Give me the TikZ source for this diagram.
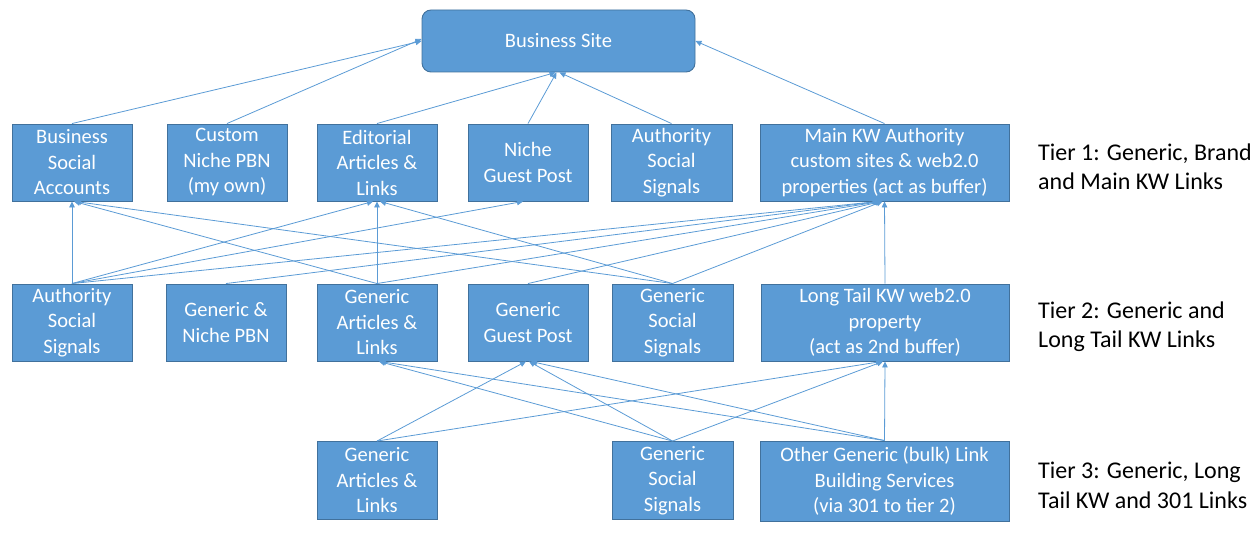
\documentclass[tikz,border=0pt]{standalone}
\usepackage{fontspec}
\setmainfont{Carlito}
\usetikzlibrary{arrows.meta}
\definecolor{boxfill}{HTML}{5B9BD5}
\definecolor{boxline}{HTML}{41719C}
\definecolor{linkline}{HTML}{5B9BD5}
\tikzset{
  box/.style={draw=boxline, line width=0.9pt, fill=boxfill, text=white, align=center,
    inner sep=0pt, font=\fontsize{20.5}{25.5}\selectfont},
  tierlabel/.style={anchor=west, align=left, inner sep=0pt, text=black,
    font=\fontsize{24}{29.5}\selectfont},
  link/.style={draw=linkline, line width=0.8pt, -{Triangle[length=6pt,width=5.5pt]}}
}
\begin{document}
\begin{tikzpicture}[x=1pt,y=-1pt]
\useasboundingbox (0,0) rectangle (1260,537);
% top
\node[box, rounded corners=9pt, minimum width=273pt, minimum height=62pt] (bs) at (558.5,41) {Business Site};
% tier 1
\node[box, minimum width=120pt, minimum height=77pt] (bsa) at (72,162.5) {Business\\Social\\Accounts};
\node[box, minimum width=120pt, minimum height=77pt] (cpbn) at (227,162.5) {Custom\\Niche PBN\\(my own)};
\node[box, minimum width=120pt, minimum height=77pt] (edit) at (377,162.5) {Editorial\\Articles \&\\Links};
\node[box, minimum width=120pt, minimum height=77pt] (ngp) at (528,162.5) {Niche\\Guest Post};
\node[box, minimum width=121pt, minimum height=77pt] (ass1) at (671.5,162.5) {Authority\\Social\\Signals};
\node[box, minimum width=249pt, minimum height=77pt] (mkw) at (884.5,162.5) {Main KW Authority\\custom sites \& web2.0\\properties (act as buffer)};
% tier 2
\node[box, minimum width=120pt, minimum height=77pt] (ass2) at (72,322.5) {Authority\\Social\\Signals};
\node[box, minimum width=120pt, minimum height=77pt] (gnp) at (226,322.5) {Generic \&\\Niche PBN};
\node[box, minimum width=120pt, minimum height=77pt] (ga2) at (377,322.5) {Generic\\Articles \&\\Links};
\node[box, minimum width=120pt, minimum height=77pt] (ggp) at (528,322.5) {Generic\\Guest Post};
\node[box, minimum width=121pt, minimum height=77pt] (gss2) at (672.5,322.5) {Generic\\Social\\Signals};
\node[box, minimum width=248pt, minimum height=77pt] (lt) at (885,322.5) {Long Tail KW web2.0\\property\\(act as 2nd buffer)};
% tier 3
\node[box, minimum width=120pt, minimum height=78pt] (ga3) at (377,480.5) {Generic\\Articles \&\\Links};
\node[box, minimum width=121pt, minimum height=78pt] (gss3) at (672.5,480.5) {Generic\\Social\\Signals};
\node[box, minimum width=249pt, minimum height=80pt] (og) at (884.5,481) {Other Generic (bulk) Link\\Building Services\\(via 301 to tier 2)};
% tier labels
\node[tierlabel] (t1) at (1038,167) {Tier 1: Generic, Brand\\and Main KW Links};
\node[tierlabel] (t2) at (1038,326.5) {Tier 2: Generic and\\Long Tail KW Links};
\node[tierlabel] (t3) at (1038,485.5) {Tier 3: Generic, Long\\Tail KW and 301 Links};
% tier 1 -> business site
\draw[link] (bsa.north) -- (bs.west);
\draw[link] (cpbn.north) -- ([yshift=2pt]bs.west);
\draw[link] (edit.north) -- ([xshift=-3pt]bs.south);
\draw[link] (ngp.north) -- ([xshift=-2pt]bs.south);
\draw[link] (ass1.north) -- ([xshift=1pt]bs.south);
\draw[link] (mkw.north) -- (bs.east);
% tier 2 -> tier 1
\draw[link] (ass2.north) -- (bsa.south);
\draw[link] (ass2.north) -- ([xshift=-4pt]edit.south);
\draw[link] (ass2.north) -- ([xshift=-5pt]ngp.south);
\draw[link] (ass2.north) -- ([xshift=-6pt]mkw.south);
\draw[link] (gnp.north) -- ([xshift=-5pt]mkw.south);
\draw[link] (ga2.north) -- (edit.south);
\draw[link] (ga2.north) -- ([xshift=2pt]bsa.south);
\draw[link] (ga2.north) -- ([xshift=-4pt]mkw.south);
\draw[link] (ggp.north) -- ([xshift=-3pt]mkw.south);
\draw[link] (gss2.north) -- ([xshift=3pt]bsa.south);
\draw[link] (gss2.north) -- ([xshift=3pt]edit.south);
\draw[link] (gss2.north) -- ([xshift=-2pt]mkw.south);
\draw[link] (lt.north) -- (mkw.south);
% tier 3 -> tier 2
\draw[link] (ga3.north) -- ([xshift=-2pt]ggp.south);
\draw[link] (ga3.north) -- ([xshift=-3pt]lt.south);
\draw[link] (gss3.north) -- ([xshift=2pt]ga2.south);
\draw[link] (gss3.north) -- ([xshift=1pt]ggp.south);
\draw[link] (gss3.north) -- ([xshift=-2pt]lt.south);
\draw[link] (og.north) -- (lt.south);
\draw[link] (og.north) -- ([xshift=3pt]ga2.south);
\draw[link] (og.north) -- ([xshift=3pt]ggp.south);
\end{tikzpicture}
\end{document}
